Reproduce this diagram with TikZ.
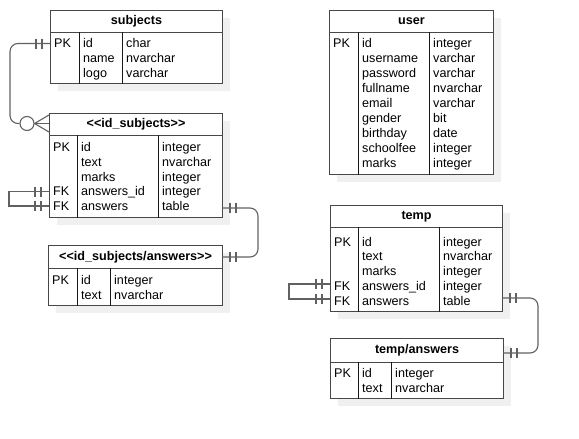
\documentclass[tikz,border=0pt]{standalone}
\usepackage{fontspec}
\setmainfont{Liberation Sans}
\usetikzlibrary{shadows}
\newcommand\Rs{\rule{0pt}{9.7pt}}
\newcommand\LT{\mbox{<}\mbox{<}}
\newcommand\GT{\mbox{>}\mbox{>}}
\tikzset{
  tab/.style={draw=black!72, line width=1.1pt, fill=white, rectangle, inner sep=0pt, anchor=north west,
    drop shadow={shadow xshift=7pt,shadow yshift=-7pt,fill=black!6,opacity=1}},
  hdr/.style={tab, font=\fontsize{12.6}{14}\selectfont\bfseries},
  col/.style={anchor=north west, inner sep=0pt, align=left, font=\fontsize{12.6}{14.7}\selectfont},
  colu/.style={col, font=\fontsize{12.6}{15}\selectfont},
  div/.style={draw=black!90, line width=0.8pt},
  conn/.style={draw=black!62, line width=1.1pt},
}
\newcommand\mandone[2]{%
  \draw[conn] ([xshift=#2*8pt]#1) ++(0,-5) -- ++(0,10);
  \draw[conn] ([xshift=#2*14pt]#1) ++(0,-5) -- ++(0,10);}
\begin{document}
\begin{tikzpicture}[x=1pt,y=-1pt]
\useasboundingbox (0,0) rectangle (579,439);

% ---------- subjects ----------
\node[hdr, minimum width=172pt, minimum height=22pt] (subH) at (50,10) {subjects};
\node[tab, minimum width=172pt, minimum height=51pt] (subB) at (50,32) {};
\draw[div] ([xshift=29pt]subB.north west) -- ([xshift=29pt]subB.south west);
\draw[div] ([xshift=72pt]subB.north west) -- ([xshift=72pt]subB.south west);
\node[col] (subK) at (54,37.8) {\Rs PK};
\node[col] (subN) at (83,37.8) {\Rs id\\name\\logo};
\node[col] (subT) at (126,37.8) {\Rs char\\nvarchar\\varchar};

% ---------- <<id_subjects>> ----------
\node[hdr, minimum width=173pt, minimum height=22pt] (isH) at (49,113) {\LT id\_subjects\GT};
\node[tab, minimum width=173pt, minimum height=82pt] (isB) at (49,135) {};
\draw[div] ([xshift=28pt]isB.north west) -- ([xshift=28pt]isB.south west);
\draw[div] ([xshift=109pt]isB.north west) -- ([xshift=109pt]isB.south west);
\node[col] (isK) at (53,141.8) {\Rs PK};
\node[col] (isF) at (53,185.9) {\Rs FK\\FK};
\node[col] (isN) at (81,141.8) {\Rs id\\text\\marks\\answers\_id\\answers};
\node[col] (isT) at (162,141.8) {\Rs integer\\nvarchar\\integer\\integer\\table};

% ---------- <<id_subjects/answers>> ----------
\node[hdr, minimum width=174pt, minimum height=23pt] (iaH) at (48,245) {\LT id\_subjects/answers\GT};
\node[tab, minimum width=174pt, minimum height=37pt] (iaB) at (48,268) {};
\draw[div] ([xshift=29pt]iaB.north west) -- ([xshift=29pt]iaB.south west);
\draw[div] ([xshift=62pt]iaB.north west) -- ([xshift=62pt]iaB.south west);
\node[col] (iaK) at (52,274.8) {\Rs PK};
\node[col] (iaN) at (81,274.8) {\Rs id\\text};
\node[col] (iaT) at (114,274.8) {\Rs integer\\nvarchar};

% ---------- user ----------
\node[hdr, minimum width=164pt, minimum height=22pt] (usH) at (329,10) {user};
\node[tab, minimum width=164pt, minimum height=142pt] (usB) at (329,32) {};
\draw[div] ([xshift=29pt]usB.north west) -- ([xshift=29pt]usB.south west);
\draw[div] ([xshift=100pt]usB.north west) -- ([xshift=100pt]usB.south west);
\node[colu] (usK) at (333,37.8) {\Rs PK};
\node[colu] (usN) at (362,37.8) {\Rs id\\username\\password\\fullname\\email\\gender\\birthday\\schoolfee\\marks};
\node[colu] (usT) at (433,37.8) {\Rs integer\\varchar\\varchar\\nvarchar\\varchar\\bit\\date\\integer\\integer};

% ---------- temp ----------
\node[hdr, minimum width=172pt, minimum height=22pt] (tmH) at (330,205) {temp};
\node[tab, minimum width=172pt, minimum height=84pt] (tmB) at (330,227) {};
\draw[div] ([xshift=28pt]tmB.north west) -- ([xshift=28pt]tmB.south west);
\draw[div] ([xshift=109pt]tmB.north west) -- ([xshift=109pt]tmB.south west);
\node[col] (tmK) at (334,236.3) {\Rs PK};
\node[col] (tmF) at (334,280.4) {\Rs FK\\FK};
\node[col] (tmN) at (362,236.3) {\Rs id\\text\\marks\\answers\_id\\answers};
\node[col] (tmT) at (443,236.3) {\Rs integer\\nvarchar\\integer\\integer\\table};

% ---------- temp/answers ----------
\node[hdr, minimum width=173pt, minimum height=24pt] (taH) at (330,338) {temp/answers};
\node[tab, minimum width=173pt, minimum height=36pt] (taB) at (330,362) {};
\draw[div] ([xshift=28pt]taB.north west) -- ([xshift=28pt]taB.south west);
\draw[div] ([xshift=61pt]taB.north west) -- ([xshift=61pt]taB.south west);
\node[col] (taK) at (334,367.8) {\Rs PK};
\node[col] (taN) at (362,367.8) {\Rs id\\text};
\node[col] (taT) at (395,367.8) {\Rs integer\\nvarchar};

% ---------- connector ends ----------
\coordinate (subPK) at (50,43.5);
\coordinate (isIn) at (49,123.5);
\coordinate (isFK1) at (49,191.5);
\coordinate (isFK2) at (49,206);
\coordinate (isAns) at (222,208);
\coordinate (iaIn) at (222,257);
\coordinate (tmFK1) at (330,284);
\coordinate (tmFK2) at (330,299);
\coordinate (tmAns) at (502,298);
\coordinate (taIn) at (503,353);

% subjects -> id_subjects (one to zero-or-many)
\node[circle, draw=black!62, line width=1.1pt, fill=white, minimum size=14pt, inner sep=0pt] (zc) at (27,123.5) {};
\draw[conn, rounded corners=8pt] (subPK) -- (10,43.5) -- (10,123.5) -- (zc.west);
\mandone{subPK}{-1}
\draw[conn] (zc.east) -- ([yshift=8.5pt]isIn);
\draw[conn] (zc.east) -- (isIn);
\draw[conn] (zc.east) -- ([yshift=-8.5pt]isIn);

% id_subjects self loop
\draw[conn] (isFK1) -- (9,191.5) -- (9,206) -- (isFK2);
\mandone{isFK1}{-1}
\mandone{isFK2}{-1}

% id_subjects answers -> id_subjects/answers
\draw[conn, rounded corners=8pt] (isAns) -- (258,208) -- (258,257) -- (iaIn);
\mandone{isAns}{1}
\mandone{iaIn}{1}

% temp self loop
\draw[conn] (tmFK1) -- (289,284) -- (289,299) -- (tmFK2);
\mandone{tmFK1}{-1}
\mandone{tmFK2}{-1}

% temp answers -> temp/answers
\draw[conn, rounded corners=8pt] (tmAns) -- (538,298) -- (538,353) -- (taIn);
\mandone{tmAns}{1}
\mandone{taIn}{1}
\end{tikzpicture}
\end{document}
